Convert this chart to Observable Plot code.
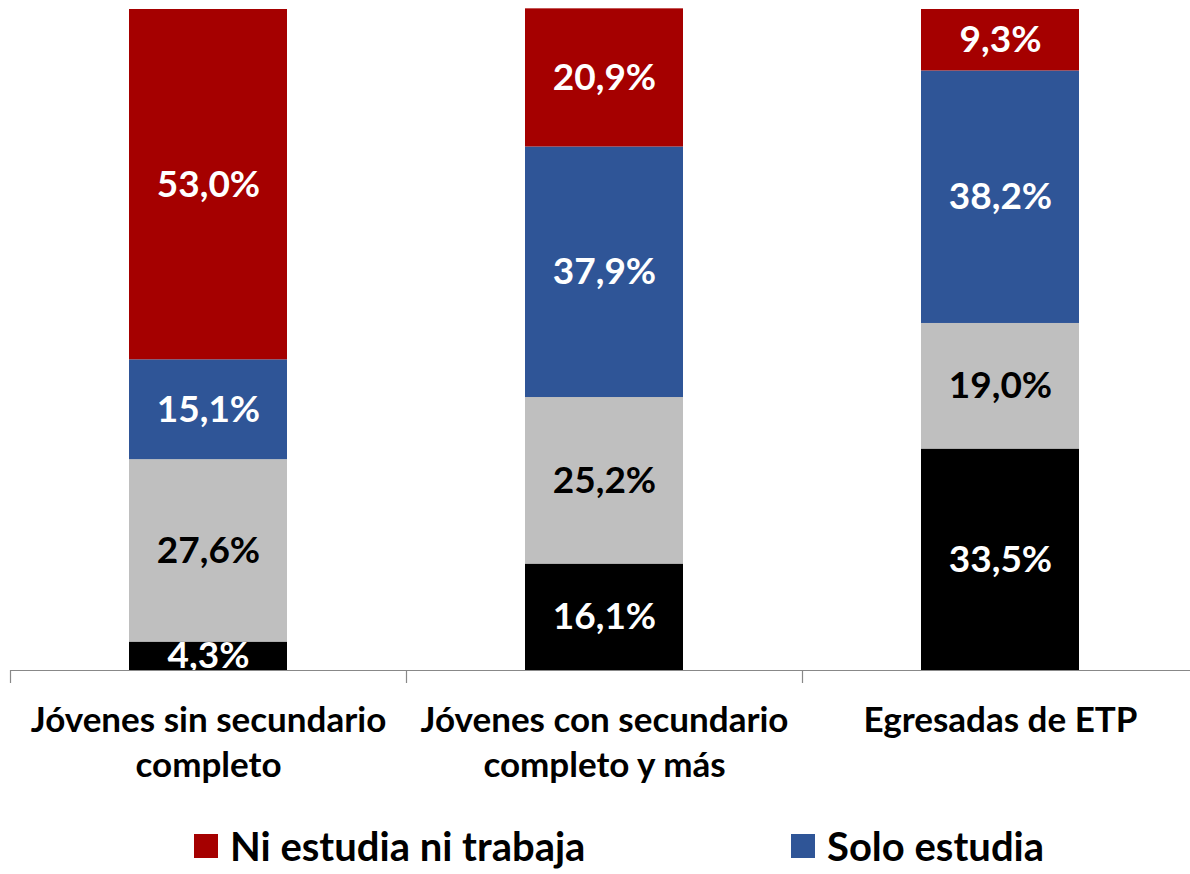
<!DOCTYPE html>
<html>
<head>
<meta charset="utf-8">
<script src="https://cdn.jsdelivr.net/npm/d3@7"></script>
<script src="https://cdn.jsdelivr.net/npm/@observablehq/plot@0.6"></script>
<style>
  body { margin: 0; background: #fff; font-family: Lato, sans-serif; }
  #wrap { position: relative; width: 1190px; height: 874px; overflow: hidden; }
  #chart { position: absolute; left: 0; top: 0; }
  .leg { position: absolute; top: 824px; display: flex; align-items: center; font: bold 40px/44px Lato, sans-serif; color: #000; }
  .sw { width: 24px; height: 24px; margin-right: 12px; }
</style>
</head>
<body>
<div id="wrap">
  <div id="chart"></div>
  <div class="leg" style="left:194px"><div class="sw" style="background:#A50000"></div>Ni estudia ni trabaja</div>
  <div class="leg" style="left:791px"><div class="sw" style="background:#2F5597"></div>Solo estudia</div>
</div>
<script>
const categories = ["Jóvenes sin secundario completo", "Jóvenes con secundario completo y más", "Egresadas de ETP"];
const categoryLabels = ["Jóvenes sin secundario\ncompleto", "Jóvenes con secundario\ncompleto y más", "Egresadas de ETP"];
const seriesNames = ["Estudia y trabaja", "Solo trabaja", "Solo estudia", "Ni estudia ni trabaja"];
const seriesColors = ["#000000", "#BFBFBF", "#2F5597", "#A50000"];
const labelColors = ["#ffffff", "#000000", "#ffffff", "#ffffff"];
const estudiaYTrabaja = [4.3, 16.1, 33.5];
const soloTrabaja = [27.6, 25.2, 19.0];
const soloEstudia = [15.1, 37.9, 38.2];
const niNi = [53.0, 20.9, 9.3];

const seriesValues = [estudiaYTrabaja, soloTrabaja, soloEstudia, niNi];
const data = [];
seriesNames.forEach((s, si) => {
  categories.forEach((c, ci) => {
    data.push({category: c, series: s, value: seriesValues[si][ci], labelColor: labelColors[si]});
  });
});
const fmt = v => v.toFixed(1).replace(".", ",") + "%";

const chart = Plot.plot({
  width: 1190,
  height: 800,
  marginTop: 9,
  marginBottom: 130,
  marginLeft: 10,
  marginRight: 0,
  style: {fontFamily: "Lato, sans-serif", fontWeight: "bold", color: "#000", background: "#fff"},
  x: {domain: categories, range: [10, 1198], paddingInner: 0.6, paddingOuter: 0.3, axis: null, label: null},
  y: {domain: [0, 100], axis: null},
  color: {domain: seriesNames, range: seriesColors},
  marks: [
    Plot.barY(data, Plot.stackY({x: "category", y: "value", fill: "series", z: "series", order: seriesNames})),
    Plot.text(data, Plot.stackY({x: "category", y: "value", z: "series", order: seriesNames,
      text: d => fmt(d.value), fill: "labelColor", fontSize: 37, fontWeight: "bold", clip: true})),
    Plot.ruleY([0], {stroke: "#888888", strokeWidth: 1.2}),
    Plot.axisX({tickSize: 13, tickFormat: () => "", dx: -198, stroke: "#888888", strokeWidth: 1.2, label: null}),
    Plot.axisX({tickSize: 0, tickPadding: 29, fontSize: 35, fontWeight: "bold", lineHeight: 1.29,
      fill: "#000", label: null, tickFormat: d => categoryLabels[categories.indexOf(d)]})
  ]
});
document.getElementById("chart").appendChild(chart);
</script>
</body>
</html>
